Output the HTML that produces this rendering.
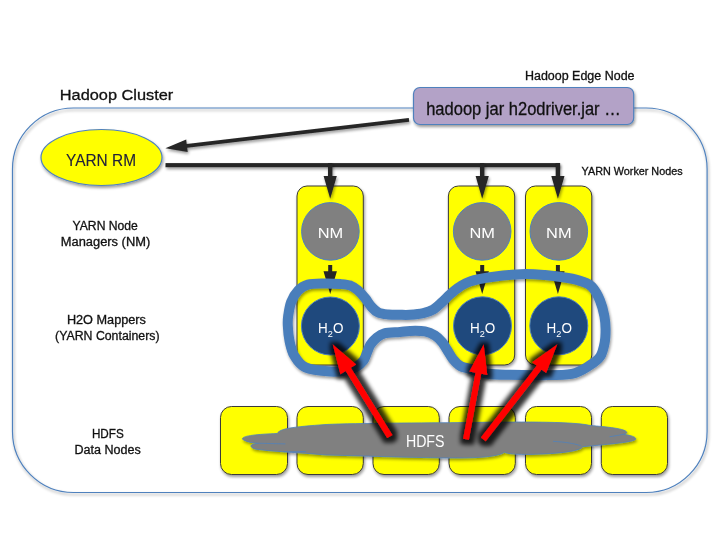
<!DOCTYPE html>
<html><head><meta charset="utf-8">
<style>
html,body{margin:0;padding:0;background:#fff;width:720px;height:540px;overflow:hidden}
svg{display:block;will-change:transform}
text{font-family:"Liberation Sans",sans-serif}
.dk{stroke:#111;stroke-width:0.3}
</style></head>
<body>
<svg width="720" height="540" viewBox="0 0 720 540">
<defs>
  <filter id="sh" x="-20%" y="-20%" width="140%" height="140%">
    <feGaussianBlur in="SourceAlpha" stdDeviation="1.4"/>
    <feOffset dx="0.8" dy="1.8" result="b"/>
    <feComponentTransfer><feFuncA type="linear" slope="0.4"/></feComponentTransfer>
    <feMerge><feMergeNode/><feMergeNode in="SourceGraphic"/></feMerge>
  </filter>
  <filter id="glow" x="-50%" y="-50%" width="200%" height="200%">
    <feMorphology in="SourceAlpha" operator="dilate" radius="4" result="d"/>
    <feGaussianBlur in="d" stdDeviation="1.9"/>
    <feOffset dx="0.5" dy="1.2" result="b"/>
    <feComponentTransfer><feFuncA type="linear" slope="0.8"/></feComponentTransfer>
    <feMerge><feMergeNode/><feMergeNode in="SourceGraphic"/></feMerge>
  </filter>
</defs>

<!-- cluster outline -->
<rect x="12.5" y="108" width="694.6" height="384.5" rx="61" ry="61" fill="none" stroke="#4F81BD" stroke-width="1.2" filter="url(#sh)"/>

<text x="59.8" y="100.4" font-size="15.5" fill="#111" class="dk" textLength="113.5" lengthAdjust="spacingAndGlyphs">Hadoop Cluster</text>
<text x="525" y="79.9" font-size="12" fill="#111" class="dk" textLength="109.5" lengthAdjust="spacingAndGlyphs">Hadoop Edge Node</text>
<text x="581.6" y="174.8" font-size="10.5" fill="#111" class="dk" textLength="101" lengthAdjust="spacingAndGlyphs">YARN Worker Nodes</text>

<!-- purple edge node -->
<rect x="413.5" y="87.5" width="220.2" height="37" rx="6.5" ry="6.5" fill="#B3A2C7" stroke="#4F81BD" stroke-width="1.2" filter="url(#sh)"/>
<text x="426.2" y="114.5" font-size="17.5" fill="#111" class="dk" textLength="194.5" lengthAdjust="spacingAndGlyphs">hadoop jar h2odriver.jar …</text>

<!-- YARN RM -->
<ellipse cx="101.5" cy="157.5" rx="60.5" ry="28" fill="#FFFF00" stroke="#4F81BD" stroke-width="1.2" filter="url(#sh)"/>
<text x="66" y="165.6" font-size="16" fill="#22223a" class="dk" style="stroke:#22223a;stroke-width:0.12" textLength="70" lengthAdjust="spacingAndGlyphs">YARN RM</text>

<!-- black arrows -->
<g filter="url(#sh)" fill="#262626" stroke="none">
  <path d="M165.4,148.3 L187.7,152.0 L187.2,147.7 L409.2,121.8 L408.8,118.0 L186.7,143.9 L186.2,139.5 Z"/>
  <rect x="165.5" y="163.1" width="394" height="4.1"/>
</g>

<!-- yellow worker columns -->
<g fill="#FFFF00" stroke="#3a3a3a" stroke-width="1" filter="url(#sh)">
  <rect x="297" y="186" width="66.3" height="179" rx="10" ry="10"/>
  <rect x="448.4" y="186" width="66.3" height="179" rx="10" ry="10"/>
  <rect x="525.5" y="186" width="66.3" height="179" rx="10" ry="10"/>
</g>

<path filter="url(#sh)" fill="#262626" d="M328.0,163.0 L332.4,163.0 L332.4,176.0 L336.8,176.0 L330.2,198.8 L323.6,176.0 L328.0,176.0 ZM480.0,163.0 L484.4,163.0 L484.4,176.0 L488.8,176.0 L482.2,198.8 L475.6,176.0 L480.0,176.0 ZM555.7,163.0 L560.1,163.0 L560.1,176.0 L564.5,176.0 L557.9,198.8 L551.3,176.0 L555.7,176.0 Z"/>
<!-- NM circles -->
<g fill="#808080" stroke="#4F81BD" stroke-width="1">
  <circle cx="330.4" cy="231.4" r="28.8"/>
  <circle cx="482.2" cy="231.4" r="28.8"/>
  <circle cx="558.8" cy="231.4" r="28.8"/>
</g>
<g font-size="15.5" fill="#fff" text-anchor="middle">
  <text x="330.4" y="238.2" textLength="25.5" lengthAdjust="spacingAndGlyphs">NM</text>
  <text x="482.2" y="238.2" textLength="25.5" lengthAdjust="spacingAndGlyphs">NM</text>
  <text x="558.8" y="238.2" textLength="25.5" lengthAdjust="spacingAndGlyphs">NM</text>
</g>

<!-- small arrows NM -> H2O -->
<path fill="#262626" d="M328.2,265.0 L332.2,265.0 L332.2,271.3 L336.9,271.3 L330.2,294.0 L323.5,271.3 L328.2,271.3 ZM480.2,265.0 L484.2,265.0 L484.2,271.3 L488.9,271.3 L482.2,294.0 L475.5,271.3 L480.2,271.3 ZM555.9,265.0 L559.9,265.0 L559.9,271.3 L564.6,271.3 L557.9,294.0 L551.2,271.3 L555.9,271.3 Z"/>

<!-- H2O circles -->
<g fill="#1F497D" stroke="#4F81BD" stroke-width="1">
  <circle cx="330.4" cy="326" r="29"/>
  <circle cx="482.5" cy="325.8" r="29"/>
  <circle cx="558.8" cy="325.8" r="29"/>
</g>
<g font-size="14" fill="#fff">
  <text x="318.1" y="332.9" textLength="25.3" lengthAdjust="spacingAndGlyphs">H<tspan font-size="9.5" dy="3.6">2</tspan><tspan dy="-3.6">O</tspan></text>
  <text x="469.9" y="332.9" textLength="25.3" lengthAdjust="spacingAndGlyphs">H<tspan font-size="9.5" dy="3.6">2</tspan><tspan dy="-3.6">O</tspan></text>
  <text x="546.6" y="332.9" textLength="25.3" lengthAdjust="spacingAndGlyphs">H<tspan font-size="9.5" dy="3.6">2</tspan><tspan dy="-3.6">O</tspan></text>
</g>

<!-- blue loop -->
<path filter="url(#sh)" fill="none" stroke="#4A7EBB" stroke-width="10" stroke-linejoin="round" d="M324.0,283.4 C329.3,283.3 335.6,283.6 340.0,284.0 C344.4,284.4 347.5,284.6 350.5,285.6 C353.5,286.7 355.4,288.2 357.8,290.3 C360.2,292.4 362.7,295.2 365.0,298.0 C367.3,300.8 369.4,304.6 371.6,307.0 C373.8,309.4 375.5,311.2 378.3,312.5 C381.1,313.8 384.7,314.1 388.3,314.5 C391.9,314.9 396.4,314.8 400.0,314.8 C403.6,314.9 406.1,315.1 410.0,314.8 C413.9,314.5 419.4,314.0 423.3,313.1 C427.2,312.2 430.2,311.4 433.3,309.5 C436.4,307.6 439.3,304.6 442.2,302.0 C445.1,299.4 447.6,296.5 450.5,294.0 C453.4,291.5 456.2,289.1 459.5,287.0 C462.8,284.9 464.9,283.0 470.0,281.4 C475.1,279.8 481.5,278.4 490.0,277.2 C498.5,276.0 511.6,274.6 520.8,274.2 C530.0,273.8 537.1,274.4 545.0,275.0 C552.9,275.6 561.8,276.9 568.0,278.0 C574.2,279.1 578.0,280.0 582.0,281.5 C586.0,283.0 589.1,283.8 592.1,287.0 C595.1,290.2 598.0,295.6 600.0,300.5 C602.0,305.4 603.5,311.2 604.4,316.1 C605.3,321.0 605.6,325.1 605.6,329.6 C605.6,334.1 605.5,338.5 604.6,343.0 C603.7,347.5 602.7,352.8 600.2,356.5 C597.7,360.2 594.5,362.4 589.8,365.3 C585.1,368.2 580.1,372.2 571.8,373.8 C563.5,375.4 550.3,375.0 540.0,375.2 C529.7,375.4 518.7,375.1 510.0,374.8 C501.3,374.6 494.8,374.7 488.0,373.7 C481.2,372.7 473.6,369.9 469.0,368.6 C464.4,367.3 463.2,367.7 460.5,366.1 C457.8,364.5 455.0,361.5 452.8,358.8 C450.6,356.1 449.0,352.8 447.2,350.0 C445.4,347.2 444.2,344.6 442.2,342.2 C440.2,339.8 437.9,337.3 435.0,335.5 C432.1,333.7 429.2,332.2 425.0,331.4 C420.8,330.6 414.2,330.8 410.0,330.9 C405.8,331.0 404.3,331.6 400.0,332.0 C395.7,332.4 388.3,332.4 384.4,333.4 C380.5,334.4 378.8,335.9 376.5,337.8 C374.2,339.7 372.1,342.1 370.5,344.5 C368.9,346.9 368.2,349.8 367.0,352.5 C365.8,355.2 365.3,358.1 363.5,360.5 C361.7,362.9 359.1,365.3 356.0,367.0 C352.9,368.7 349.2,369.8 345.0,370.6 C340.8,371.4 337.2,372.1 330.6,371.6 C324.0,371.1 311.6,370.1 305.5,367.4 C299.4,364.7 296.8,359.8 294.2,355.5 C291.6,351.2 290.7,346.3 289.6,341.4 C288.5,336.4 288.0,330.1 287.8,325.8 C287.6,321.5 287.6,319.8 288.2,315.8 C288.8,311.8 289.6,306.1 291.2,301.9 C292.8,297.7 295.2,293.6 298.0,290.7 C300.8,287.8 303.7,285.8 308.0,284.6 C312.3,283.4 318.7,283.5 324.0,283.4 Z"/>

<!-- HDFS data node squares -->
<g fill="#FFFF00" stroke="#3a3a3a" stroke-width="1" filter="url(#sh)">
  <rect x="220.5" y="406.5" width="67" height="68" rx="11" ry="11"/>
  <rect x="297" y="406.5" width="66.3" height="68" rx="11" ry="11"/>
  <rect x="373" y="406.5" width="66.3" height="68" rx="11" ry="11"/>
  <rect x="449" y="406.5" width="66.3" height="68" rx="11" ry="11"/>
  <rect x="525.5" y="406.5" width="66" height="68" rx="11" ry="11"/>
  <rect x="601.3" y="406.5" width="66.2" height="68" rx="11" ry="11"/>
</g>

<!-- cloud -->
<g filter="url(#sh)">
<path fill="#808080" stroke="#4F81BD" stroke-width="0.8" d="M242.25,438.9 C243,435.5 258,434.3 277.25,433.5 C280,428.5 292,427 326,424.5 C360,423 420,423 470,422.5 C530,421.5 575,422 589,425.3 C600,426.5 625,428 626.8,432.2 C627,433.5 625,434 624,434.4 C632,435.5 637,437.5 635.5,439.5 C633,442 612,444 582.8,446.7 C581,451 560,453.8 530,454.4 C518,454.6 508,454 504.4,452.3 C500,455.8 485,457.8 460,458 C420,458 350,455.5 326,455 C300,452.5 270,451.5 255,449 C250,447.5 250,445 253,444.3 C255,443.8 257,443.5 258.5,443.3 C252,443 245,441.5 242.25,438.9 Z"/>
<path fill="none" stroke="#4F81BD" stroke-width="0.8" d="M258.5,443.25 C270,443.5 280,443.8 285.4,443.9 M283.5,451.75 L306,451.5 M553,441.3 C565,442 575,443.5 581.25,446 M609.5,436.7 C615,436 620,435 624,434.2"/>
</g>
<text x="405.9" y="447.2" font-size="16.5" fill="#fff" textLength="38.6" lengthAdjust="spacingAndGlyphs">HDFS</text>

<!-- red arrows -->
<g filter="url(#glow)" fill="#FF0000">
  <path d="M332.8,344.4 L340.4,374.2 L345.7,371.0 L387.2,438.1 L392.4,434.9 L350.8,367.8 L356.1,364.6 Z"/>
  <path d="M483.7,344.4 L469.4,371.6 L475.5,372.8 L463.1,438.8 L468.9,439.8 L481.2,373.8 L487.3,375.0 Z"/>
  <path d="M557.2,344.4 L532.2,362.2 L536.7,365.7 L480.9,437.4 L485.7,441.2 L541.6,369.5 L546.1,373.0 Z"/>
</g>

<!-- labels -->
<g font-size="12" fill="#111" text-anchor="middle" class="dk">
  <text x="105.2" y="230" textLength="65.3" lengthAdjust="spacingAndGlyphs">YARN Node</text>
  <text x="105.5" y="246" textLength="89.5" lengthAdjust="spacingAndGlyphs">Managers (NM)</text>
  <text x="106.4" y="323.9" textLength="79" lengthAdjust="spacingAndGlyphs">H2O Mappers</text>
  <text x="107.3" y="340" textLength="104.5" lengthAdjust="spacingAndGlyphs">(YARN Containers)</text>
  <text x="107.8" y="438" textLength="31.8" lengthAdjust="spacingAndGlyphs">HDFS</text>
  <text x="107.6" y="453.9" textLength="66.3" lengthAdjust="spacingAndGlyphs">Data Nodes</text>
</g>
</svg>
</body></html>
